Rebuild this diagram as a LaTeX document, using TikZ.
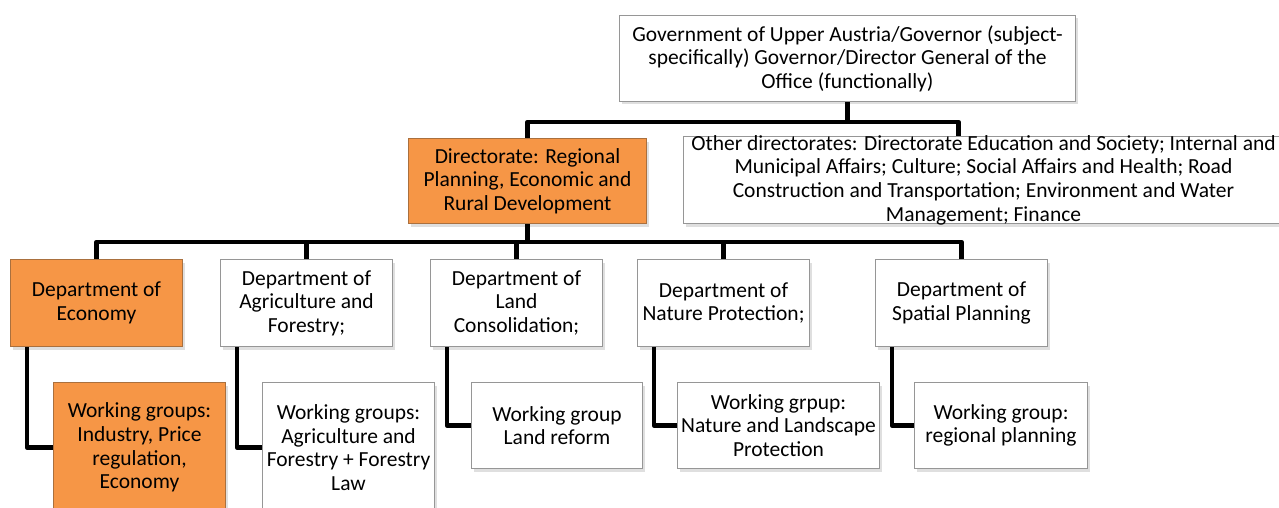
\documentclass[tikz,border=0pt]{standalone}
\usepackage{fontspec}
\setmainfont{Carlito}
\usepackage{tikz}
\usetikzlibrary{positioning,shadows}
\definecolor{boxorange}{RGB}{246,150,70}
\definecolor{orangeline}{RGB}{170,112,62}
\definecolor{greyline}{RGB}{150,150,150}

\tikzset{
  orgbox/.style={draw=greyline,fill=white,line width=1pt,align=center,inner sep=3pt,
    drop shadow={shadow xshift=2pt,shadow yshift=-3pt,opacity=0.25},
    font=\fontsize{21.5}{23.6}\selectfont},
  hotbox/.style={orgbox,fill=boxorange,draw=orangeline},
  deptbox/.style={minimum width=172pt,minimum height=87pt},
  wgbox/.style={anchor=north west,minimum width=172pt,minimum height=86pt},
  conn/.style={line width=4.5pt,line join=round}
}

\begin{document}
\begin{tikzpicture}[x=1pt,y=-1pt,node distance=37pt]
        \useasboundingbox (0,0) rectangle (1279,508);
        % top level
        \node[orgbox,anchor=north west,minimum width=456pt,minimum height=86pt] (gov) at (619,15)
          {Government of Upper Austria/Governor (subject-\\specifically) Governor/Director General of the\\Office (functionally)};
        \node[hotbox,anchor=north west,minimum width=238pt,minimum height=85pt] (dir) at (408,138)
          {Directorate: Regional\\Planning, Economic and\\Rural Development};
        \node[orgbox,anchor=north west,minimum width=600pt,minimum height=87pt,inner ysep=-3pt] (other) at (683,136)
          {Other directorates: Directorate Education and Society; Internal and\\Municipal Affairs; Culture; Social Affairs and Health; Road\\Construction and Transportation; Environment and Water\\Management; Finance};
        % departments
        \node[hotbox,deptbox,anchor=north west] (econ) at (10,259) {Department of\\Economy};
        \node[orgbox,deptbox,right=of econ] (agri) {Department of\\Agriculture and\\Forestry;};
        \node[orgbox,deptbox,right=of agri] (land) {Department of\\Land\\Consolidation;};
        \node[orgbox,deptbox,right=34pt of land] (nat) {Department of\\Nature Protection;};
        \node[orgbox,deptbox,right=65pt of nat] (spat) {Department of\\Spatial Planning};
        % working groups
        \node[hotbox,wgbox,minimum height=130pt] (wgecon) at (53,382) {Working groups:\\Industry, Price\\regulation,\\Economy};
        \node[orgbox,wgbox,minimum height=130pt] (wgagri) at (262,382) {Working groups:\\Agriculture and\\Forestry + Forestry\\Law};
        \node[orgbox,wgbox,minimum width=171pt] (wgland) at (471,382) {Working group\\Land reform};
        \node[orgbox,wgbox,minimum width=202pt] (wgnat) at (677,382) {Working grpup:\\Nature and Landscape\\Protection};
        \node[orgbox,wgbox,minimum width=173pt] (wgspat) at (914,382) {Working group:\\regional planning};
        % connectors
        \draw[conn] (gov.south) -- ++(0,21) coordinate (govjoin);
        \draw[conn] (dir.north) -- ++(0,-16) coordinate (dirjoin) -| ([xshift=-25pt]other.north);
        \draw[conn] (dir.south) -- ++(0,18) coordinate (deptjoin);
        \foreach \d in {econ,agri,land,nat,spat}
          \draw[conn] (\d.north) |- (deptjoin);
        \foreach \d/\w in {econ/wgecon,agri/wgagri,land/wgland,nat/wgnat,spat/wgspat}
          \draw[conn] ([xshift=17pt]\d.south west) |- (\w.west);
      \end{tikzpicture}
\end{document}
